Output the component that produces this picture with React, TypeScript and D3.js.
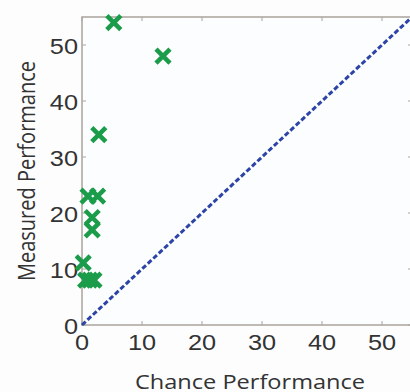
import React, { useEffect, useRef } from 'react'
import * as d3 from 'd3'

const chanceValues = [5.3, 13.5, 2.8, 1.0, 2.6, 1.7, 1.7, 0.2, 0.6, 1.3, 2.0]
const measuredValues = [54, 48, 34, 23, 23, 19.2, 17, 11.1, 8, 8, 8]
const xTicks = [0, 10, 20, 30, 40, 50]
const yTicks = [0, 10, 20, 30, 40, 50]
const axisMax = 55

export default function App() {
  const ref = useRef<SVGSVGElement>(null)

  useEffect(() => {
    const svg = d3.select(ref.current)
    svg.selectAll('*').remove()

    const left = 82, top = 17
    const width = 330, height = 308

    const x = d3.scaleLinear().domain([0, axisMax]).range([0, width])
    const y = d3.scaleLinear().domain([0, axisMax]).range([height, 0])

    svg.append('rect').attr('width', 410).attr('height', 392).attr('fill', '#fdfdfe')

    const g = svg.append('g').attr('transform', `translate(${left},${top})`)

    // box
    g.append('rect')
      .attr('width', width).attr('height', height)
      .attr('fill', '#fcfdfe').attr('stroke', '#aaa39c').attr('stroke-width', 1.5)

    // inward ticks on all four sides
    const tickLen = 4
    xTicks.forEach(t => {
      g.append('line').attr('x1', x(t)).attr('x2', x(t)).attr('y1', height).attr('y2', height - tickLen)
        .attr('stroke', '#aaa39c')
      g.append('line').attr('x1', x(t)).attr('x2', x(t)).attr('y1', 0).attr('y2', tickLen)
        .attr('stroke', '#aaa39c')
    })
    yTicks.forEach(t => {
      g.append('line').attr('y1', y(t)).attr('y2', y(t)).attr('x1', 0).attr('x2', tickLen)
        .attr('stroke', '#aaa39c')
      g.append('line').attr('y1', y(t)).attr('y2', y(t)).attr('x1', width).attr('x2', width - tickLen)
        .attr('stroke', '#aaa39c')
    })

    // tick labels (slightly wide, like the reference)
    g.selectAll('text.xt').data(xTicks).enter().append('text')
      .attr('class', 'xt')
      .attr('transform', d => `translate(${x(d)},${height + 25}) scale(1.15,1)`)
      .attr('text-anchor', 'middle')
      .attr('font-family', 'Liberation Sans, Arial, sans-serif')
      .attr('font-size', 22).attr('fill', '#333')
      .text(d => d)

    g.selectAll('text.yt').data(yTicks).enter().append('text')
      .attr('class', 'yt')
      .attr('transform', d => `translate(-4,${y(d) + 9}) scale(1.15,1)`)
      .attr('text-anchor', 'end')
      .attr('font-family', 'Liberation Sans, Arial, sans-serif')
      .attr('font-size', 22).attr('fill', '#333')
      .text(d => d)

    // diagonal chance line
    g.append('line')
      .attr('x1', x(0)).attr('y1', y(0)).attr('x2', x(axisMax)).attr('y2', y(axisMax))
      .attr('stroke', '#2c44a6').attr('stroke-width', 3)
      .attr('stroke-dasharray', '5,2.5')

    // markers
    const s = 7
    const pts = chanceValues.map((c, i) => [c, measuredValues[i]])
    const mk = g.append('g').attr('stroke', '#1b9c4a').attr('stroke-width', 4.5)
    pts.forEach(([cx, cy]) => {
      const px = x(cx), py = y(cy)
      mk.append('path').attr('d', `M${px - s},${py - s}L${px + s},${py + s}M${px - s},${py + s}L${px + s},${py - s}`)
    })

    // axis titles
    svg.append('text')
      .attr('transform', 'translate(250,389) scale(1.15,1)')
      .attr('text-anchor', 'middle')
      .attr('font-family', 'Open Sans, sans-serif')
      .attr('font-size', 20.5).attr('fill', '#333')
      .text('Chance Performance')

    svg.append('text')
      .attr('transform', 'translate(35,171) rotate(-90) scale(1,1.15)')
      .attr('text-anchor', 'middle')
      .attr('font-family', 'Open Sans, sans-serif')
      .attr('font-size', 20).attr('fill', '#333')
      .text('Measured Performance')
  }, [])

  return (
    <svg ref={ref} width={410} height={392}
      style={{ position: 'absolute', left: 0, top: 0 }} />
  )
}
